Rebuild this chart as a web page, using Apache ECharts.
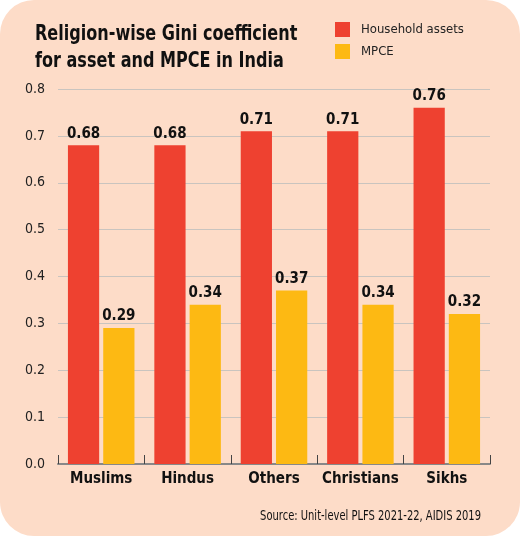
<!DOCTYPE html>
<html>
<head>
<meta charset="utf-8">
<script src="https://cdn.jsdelivr.net/npm/echarts@6/dist/echarts.min.js"></script>
<style>
  html, body { margin: 0; padding: 0; background: #ffffff; }
  #chart {
    width: 520px;
    height: 536px;
    background: #fddcc8;
    border-radius: 34px;
  }
</style>
</head>
<body>
<div id="chart"></div>
<script>
const categories = ["Muslims", "Hindus", "Others", "Christians", "Sikhs"];
const assetGini = [0.68, 0.68, 0.71, 0.71, 0.76];
const mpceGini = [0.29, 0.34, 0.37, 0.34, 0.32];
const yTicks = [0, 0.8, 0.1];

const FONT = "'DejaVu Sans Condensed', 'Liberation Sans Narrow', sans-serif";

const chart = echarts.init(document.getElementById("chart"), null, { renderer: "canvas" });

// condensed look: squeeze the headline and source note horizontally
function squeezedText(text, x, y, size, weight, align, sx) {
  return {
    type: "text",
    x: x,
    y: y,
    scaleX: sx,
    style: {
      text: text,
      fontFamily: FONT,
      fontSize: size,
      fontWeight: weight,
      lineHeight: 27,
      fill: "#111",
      textAlign: align,
      textVerticalAlign: "top"
    }
  };
}

const dataLabel = {
  show: true,
  position: "top",
  distance: 4,
  fontFamily: FONT,
  fontWeight: "bold",
  fontSize: 15,
  color: "#111",
  formatter: (p) => p.value.toFixed(2)
};

const option = {
  backgroundColor: "transparent",
  animation: false,
  legend: {
    orient: "vertical",
    left: 335,
    top: 22,
    padding: 0,
    itemWidth: 15,
    itemHeight: 15,
    itemGap: 7,
    icon: "rect",
    textStyle: {
      fontFamily: FONT,
      fontSize: 13,
      color: "#222",
      padding: [0, 0, 0, 6]
    },
    data: ["Household assets", "MPCE"]
  },
  grid: {
    left: 58,
    right: 30,
    top: 89,
    bottom: 72,
    containLabel: false
  },
  xAxis: {
    type: "category",
    data: categories,
    axisLine: { lineStyle: { color: "#888", width: 2 } },
    axisTick: {
      show: true,
      inside: true,
      length: 9,
      lineStyle: { color: "#444", width: 1 }
    },
    axisLabel: {
      interval: 0,
      fontFamily: FONT,
      fontWeight: "bold",
      fontSize: 15,
      color: "#111",
      margin: 8
    }
  },
  yAxis: {
    type: "value",
    min: yTicks[0],
    max: yTicks[1],
    interval: yTicks[2],
    axisLine: { show: false },
    axisTick: { show: false },
    splitLine: { lineStyle: { color: "#c9c4bf", width: 1 } },
    axisLabel: {
      fontFamily: FONT,
      fontSize: 14,
      color: "#222",
      margin: 13,
      formatter: (v) => v.toFixed(1)
    }
  },
  series: [
    {
      name: "Household assets",
      type: "bar",
      data: assetGini,
      barGap: "13%",
      barCategoryGap: "23%",
      itemStyle: { color: "#ee4130" },
      label: dataLabel
    },
    {
      name: "MPCE",
      type: "bar",
      data: mpceGini,
      itemStyle: { color: "#fdb913" },
      label: dataLabel
    }
  ],
  graphic: [
    squeezedText("Religion-wise Gini coefficient\nfor asset and MPCE in India", 35, 21, 21, "bold", "left", 0.85),
    squeezedText("Source: Unit-level PLFS 2021-22, AIDIS 2019", 481, 503, 14, "normal", "right", 0.79)
  ]
};

chart.setOption(option);
</script>
</body>
</html>
